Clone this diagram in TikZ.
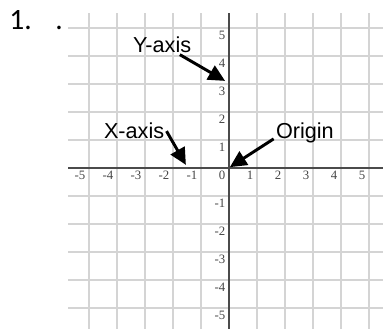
\documentclass[tikz,border=0pt]{standalone}
\usepackage{fontspec}
\setmainfont{Liberation Sans}
\newfontfamily\numfont{Carlito}
\newfontfamily\tickfont{Liberation Serif}
\usepackage{tikz}
\usetikzlibrary{arrows.meta,positioning,calc}
\definecolor{gridgray}{RGB}{212,212,212}
\definecolor{axisgray}{RGB}{75,75,75}
\definecolor{tickgray}{RGB}{70,70,70}
\tikzset{
  gridline/.style={draw=gridgray, line width=0.9pt},
  axisline/.style={draw=axisgray, line width=1.1pt},
  ticklabel/.style={font=\tickfont\fontsize{6.5}{6.5}\selectfont, text=tickgray, inner sep=0pt},
  callout/.style={font=\fontsize{11}{13}\selectfont, inner sep=1pt},
  pointer/.style={-{Triangle[length=8.5pt,width=8pt]}, line width=1.5pt, draw=black}
}

\begin{document}
\begin{tikzpicture}[x=0.5cm, y=0.5cm]
  \useasboundingbox (-8.18,-5.75) rectangle (5.5,6.0);
  % grid
  \foreach \k in {-5,...,5} {
    \draw[gridline] (\k,-5.75) -- (\k,5.55);
    \draw[gridline] (-5.75,\k) -- (5.5,\k);
  }
  % axes
  \draw[axisline] (-5.75,0) -- (5.5,0);
  \draw[axisline] (0,-5.75) -- (0,5.55);
  % tick labels
  \foreach \k in {-5,...,5}
    \node[ticklabel, anchor=north east] (xt\k) at (\k-0.12,-0.1) {\k};
  \foreach \k in {-5,...,-1,1,2,...,5}
    \node[ticklabel, anchor=north east] (yt\k) at (-0.12,\k-0.1) {\k};
  % item number
  \node[font=\numfont\fontsize{15}{17}\selectfont, anchor=base west, inner sep=0pt] (num) at (-7.86,4.93) {1.};
  \node[font=\numfont\fontsize{15}{17}\selectfont, anchor=base, inner sep=0pt] (dot) at (-6.07,4.93) {.};
  % callouts
  \node[callout, anchor=base] (ylab) at (-2.39,4.14) {Y-axis};
  \node[callout, anchor=base] (xlab) at (-3.39,1.04) {X-axis};
  \node[callout, anchor=base] (olab) at (2.71,1.04) {Origin};
  \coordinate (ytip) at (-0.14,3.11);
  \coordinate (xtip) at (-1.54,0.11);
  \coordinate (otip) at (0.03,0.03);
  \draw[pointer] (ylab) -- (ytip);
  \draw[pointer] (xlab.east) -- (xtip);
  \draw[pointer] (olab.base west) -- (otip);
\end{tikzpicture}
\end{document}
